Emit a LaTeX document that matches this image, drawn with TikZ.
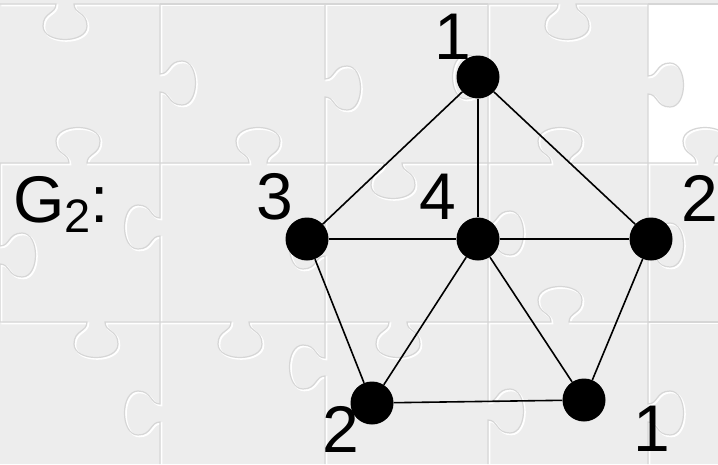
\documentclass[tikz,border=0pt]{standalone}
\usepackage{fontspec}
\newfontfamily\thin{Liberation Sans}
\definecolor{bg}{RGB}{237,237,237}
\definecolor{pzdark}{RGB}{214,214,214}
\newcommand\hk[5]{\draw[pz] (#1,#3) -- ({#4-9},#3) .. controls ({#4-9},{#3+#5*10}) and ({#4-22},{#3+#5*8}) .. ({#4-22},{#3+#5*22}) .. controls ({#4-22},{#3+#5*40}) and ({#4+22},{#3+#5*40}) .. ({#4+22},{#3+#5*22}) .. controls ({#4+22},{#3+#5*8}) and ({#4+9},{#3+#5*10}) .. ({#4+9},#3) -- (#2,#3);}
\newcommand\vk[5]{\draw[pz] (#3,#1) -- (#3,{#4-9}) .. controls ({#3+#5*10},{#4-9}) and ({#3+#5*8},{#4-22}) .. ({#3+#5*22},{#4-22}) .. controls ({#3+#5*40},{#4-22}) and ({#3+#5*40},{#4+22}) .. ({#3+#5*22},{#4+22}) .. controls ({#3+#5*8},{#4+22}) and ({#3+#5*10},{#4+9}) .. (#3,{#4+9}) -- (#3,#2);}
\newcommand\alledges{%
  \hk{0}{160}{4}{65}{1}\draw[pz] (160,4)--(488,4);\hk{488}{648}{4}{567}{1}\draw[pz] (648,4)--(718,4);
  \hk{0}{160}{163}{78}{-1}\hk{160}{325}{163}{258}{-1}\hk{325}{488}{163}{393}{1}\hk{488}{648}{163}{560}{-1}\hk{648}{718}{163}{705}{-1}
  \hk{0}{160}{322}{96}{1}\hk{160}{325}{322}{240}{1}\hk{325}{488}{322}{398}{1}\hk{488}{648}{322}{560}{-1}\draw[pz] (648,322)--(718,322);
  \vk{163}{322}{0}{255}{1}
  \vk{4}{163}{160}{83}{1}\vk{163}{322}{160}{227}{-1}\vk{322}{464}{160}{413}{-1}
  \vk{4}{163}{325}{88}{1}\vk{163}{322}{325}{247}{-1}\vk{322}{464}{325}{367}{-1}
  \vk{4}{163}{488}{77}{-1}\vk{163}{322}{488}{233}{1}\vk{322}{464}{488}{411}{1}
  \vk{4}{163}{648}{85}{1}\vk{163}{322}{648}{245}{1}\vk{322}{464}{648}{413}{1}}
\begin{document}
\begin{tikzpicture}[x=1pt,y=-1pt,
  vtx/.style={circle,fill=black,minimum size=43pt,inner sep=0pt},
  lbl/.style={inner sep=0pt,font=\thin\fontsize{66}{66}\selectfont},
  edge/.style={line width=1.6pt,black}]
  % background
  \fill[bg] (0,0) rectangle (718,464);
  \useasboundingbox (0,0) rectangle (718,464);
  % missing piece (white)
  \fill[white] (648,4) rectangle (718,163);
  \fill[bg] (648,76) .. controls (658,76) and (656,63) .. (670,63) .. controls (688,63) and (688,107) .. (670,107) .. controls (656,107) and (658,94) .. (648,94) -- cycle;
  \fill[bg] (696,163) .. controls (696,153) and (683,155) .. (683,141) .. controls (683,123) and (727,123) .. (727,141) .. controls (727,155) and (714,153) .. (714,163) -- cycle;
  % puzzle edges
  \begin{scope}[shift={(1.3,1.3)},pz/.style={draw=white,line width=2pt}]
    \alledges
  \end{scope}
  \begin{scope}[pz/.style={draw=pzdark,line width=1.2pt}]
    \alledges
  \end{scope}
  % graph
  \node[vtx] (a) at (478,77) {};
  \node[vtx] (c) at (307,239) {};
  \node[vtx] (d) at (478,239) {};
  \node[vtx] (b) at (651,239) {};
  \node[vtx] (e) at (372,403) {};
  \node[vtx] (f) at (584,400) {};
  \draw[edge] (a) -- (c);
  \draw[edge] (a) -- (d);
  \draw[edge] (a) -- (b);
  \draw[edge] (c) -- (d);
  \draw[edge] (d) -- (b);
  \draw[edge] (c) -- (e);
  \draw[edge] (d) -- (e);
  \draw[edge] (d) -- (f);
  \draw[edge] (b) -- (f);
  \draw[edge] (e) -- (f);
  % labels
  \node[lbl] (la) at (453,37) {1};
  \node[lbl] (lc) at (275,197) {3};
  \node[lbl] (ld) at (438,197) {4};
  \node[lbl] (lb) at (700,198) {2};
  \node[lbl] (le) at (341,429) {2};
  \node[lbl] (lf) at (652,429) {1};
  \node[inner sep=0pt,anchor=base west,font=\thin\fontsize{66}{66}\selectfont] (g) at (13,222) {G\raisebox{-10pt}{\fontsize{47}{47}\selectfont 2}:};
\end{tikzpicture}
\end{document}
